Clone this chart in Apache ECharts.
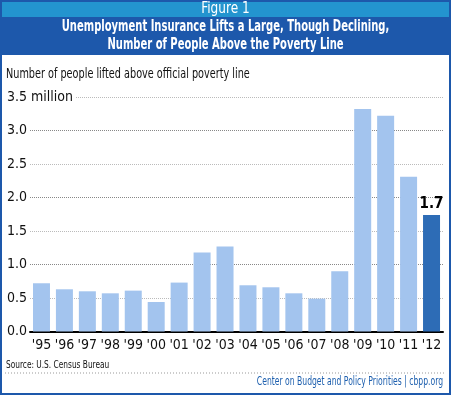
<!DOCTYPE html>
<html><head><meta charset="utf-8">
<script src="https://cdn.jsdelivr.net/npm/echarts@6/dist/echarts.min.js"></script>
<style>html,body{margin:0;padding:0;background:#fff}#c{width:451px;height:395px}</style>
</head><body><div id="c"></div>
<script>
const categories = ["'95","'96","'97","'98","'99","'00","'01","'02","'03","'04","'05","'06","'07","'08","'09","'10","'11","'12"];
const values = [0.72,0.63,0.60,0.57,0.61,0.44,0.73,1.18,1.27,0.69,0.66,0.57,0.49,0.90,3.32,3.22,2.31,1.74];
const highlightLabel = '1.7';
const yTicks = {min:0, max:3.5, interval:0.5, unit:'million'};

const F = '"Liberation Sans Narrow","DejaVu Sans Condensed",sans-serif';
const chart = echarts.init(document.getElementById('c'), null, {renderer:'canvas'});
const last = values.length - 1;
chart.setOption({
  animation:false,
  backgroundColor:'#fff',
  grid:{left:30, right:8, top:97, bottom:63.5},
  graphic:[
    {type:'rect', shape:{x:0,y:0,width:451,height:17}, style:{fill:'#2394cf'}, silent:true},
    {type:'rect', shape:{x:0,y:17,width:451,height:38}, style:{fill:'#1d58ab'}, silent:true},
    {type:'rect', shape:{x:1,y:1,width:449,height:393}, style:{fill:null, stroke:'#1d58ab', lineWidth:2}, silent:true},
    {type:'text', x:225.5, y:9.5, scaleX:0.9, style:{text:'Figure 1', fill:'#fff', font:'15px '+F, align:'center', verticalAlign:'middle'}},
    {type:'text', x:225.5, y:27, scaleX:0.74, style:{text:'Unemployment Insurance Lifts a Large, Though Declining,', fill:'#fff', font:'bold 15px '+F, align:'center', verticalAlign:'middle'}},
    {type:'text', x:225.5, y:45, scaleX:0.74, style:{text:'Number of People Above the Poverty Line', fill:'#fff', font:'bold 15px '+F, align:'center', verticalAlign:'middle'}},
    {type:'text', x:6, y:74, scaleX:0.77, style:{text:'Number of people lifted above official poverty line', fill:'#111', font:'14px '+F, verticalAlign:'middle'}},
    {type:'text', x:6, y:365, scaleX:0.75, style:{text:'Source: U.S. Census Bureau', fill:'#111', font:'11px '+F, verticalAlign:'middle'}},
    {type:'line', shape:{x1:5,y1:373,x2:444,y2:373}, style:{stroke:'#999', lineWidth:1, lineDash:[1,2]}, silent:true},
    {type:'text', x:443, y:382, scaleX:0.74, style:{text:'Center on Budget and Policy Priorities | cbpp.org', fill:'#1d5fae', font:'11.5px '+F, align:'right', verticalAlign:'middle'}}
  ],
  xAxis:{
    type:'category', data:categories,
    axisLine:{show:true, lineStyle:{color:'#000', width:2}},
    axisTick:{show:false},
    axisLabel:{interval:0, color:'#111', fontFamily:F, fontSize:14, margin:7}
  },
  yAxis:{
    type:'value', min:yTicks.min, max:yTicks.max, interval:yTicks.interval,
    axisLine:{show:false}, axisTick:{show:false},
    splitLine:{show:true, lineStyle:{color:['#888','#bbb'], type:[1,1], width:1}},
    axisLabel:{
      align:'left', margin:23, color:'#111', fontFamily:F, fontSize:14,
      formatter:function(v){ return v===yTicks.max ? '{m|'+v.toFixed(1)+' '+yTicks.unit+'}' : v.toFixed(1); },
      rich:{m:{fontFamily:F, fontSize:14, color:'#111', backgroundColor:'#fff', padding:[0,2,0,0]}}
    }
  },
  series:[{
    type:'bar', barWidth:17, z:3,
    data: values.map((v,i)=> i===last ? {value:v, itemStyle:{color:'#2d6cb6'}, label:{show:true, position:'top', formatter:highlightLabel, fontWeight:'bold', fontSize:15, color:'#000', fontFamily:F, distance:3}} : {value:v}),
    itemStyle:{color:'#a3c4ee'}
  }]
});
</script></body></html>
